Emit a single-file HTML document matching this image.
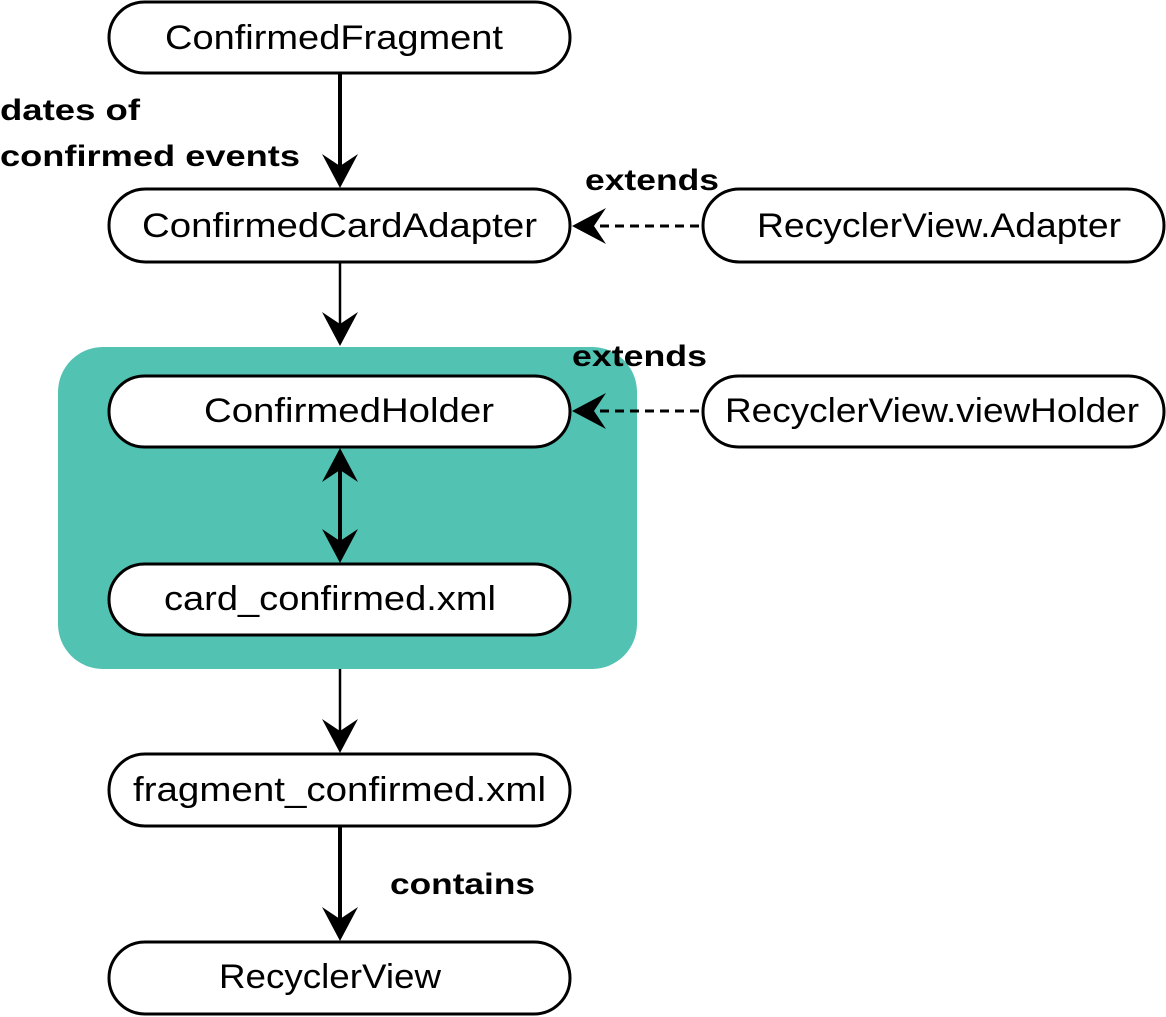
<!DOCTYPE html>
<html><head><style>
html,body{margin:0;padding:0;background:#fff;}
svg{display:block;}
text{font-family:"Liberation Sans",sans-serif;}
</style></head><body>
<svg width="1166" height="1017" viewBox="0 0 1166 1017">
<defs>
<path id="ah" d="M0,0 L-34,-18 L-22,0 L-34,18 Z" fill="#000"/>
</defs>
<rect x="58" y="347" width="579" height="322" rx="45" fill="#52C2B2"/>
<g fill="#fff" stroke="#000" stroke-width="3">
<rect x="109" y="2" width="461" height="71" rx="35.5"/>
<rect x="109" y="189" width="461" height="73" rx="36.5"/>
<rect x="703" y="189" width="461" height="73" rx="36.5"/>
<rect x="109" y="376" width="461" height="71" rx="35.5"/>
<rect x="703" y="376" width="461" height="71" rx="35.5"/>
<rect x="109" y="564" width="461" height="71" rx="35.5"/>
<rect x="109" y="754" width="461" height="72" rx="36"/>
<rect x="109" y="942" width="461" height="72" rx="36"/>
</g>
<g font-size="34" fill="#000" lengthAdjust="spacingAndGlyphs">
<text x="165" y="49" textLength="338" lengthAdjust="spacingAndGlyphs">ConfirmedFragment</text>
<text x="142" y="237" textLength="395" lengthAdjust="spacingAndGlyphs">ConfirmedCardAdapter</text>
<text x="757" y="237" textLength="364" lengthAdjust="spacingAndGlyphs">RecyclerView.Adapter</text>
<text x="204" y="422" textLength="290" lengthAdjust="spacingAndGlyphs">ConfirmedHolder</text>
<text x="725" y="422" textLength="414" lengthAdjust="spacingAndGlyphs">RecyclerView.viewHolder</text>
<text x="164" y="610" textLength="332" lengthAdjust="spacingAndGlyphs">card_confirmed.xml</text>
<text x="133" y="801" textLength="413" lengthAdjust="spacingAndGlyphs">fragment_confirmed.xml</text>
<text x="219" y="988" textLength="222" lengthAdjust="spacingAndGlyphs">RecyclerView</text>
</g>
<g font-size="30" font-weight="bold" fill="#000">
<text x="0" y="120" textLength="140" lengthAdjust="spacingAndGlyphs">dates of</text>
<text x="0" y="166" textLength="300" lengthAdjust="spacingAndGlyphs">confirmed events</text>
<text x="585" y="190" textLength="134" lengthAdjust="spacingAndGlyphs">extends</text>
<text x="572" y="366" textLength="135" lengthAdjust="spacingAndGlyphs">extends</text>
<text x="390" y="894" textLength="145" lengthAdjust="spacingAndGlyphs">contains</text>
</g>
<g stroke="#000" fill="none">
<line x1="340" y1="73" x2="340" y2="170" stroke-width="4"/>
<line x1="340" y1="262" x2="340" y2="330" stroke-width="2.5"/>
<line x1="340" y1="465" x2="340" y2="546" stroke-width="4"/>
<line x1="340" y1="669" x2="340" y2="736" stroke-width="2.5"/>
<line x1="340" y1="826" x2="340" y2="924" stroke-width="4"/>
<line x1="600" y1="226" x2="703" y2="226" stroke-width="3" stroke-dasharray="9,6"/>
<line x1="600" y1="411" x2="703" y2="411" stroke-width="3" stroke-dasharray="9,6"/>
</g>
<use href="#ah" transform="translate(340,188) rotate(90)"/>
<use href="#ah" transform="translate(340,346) rotate(90)"/>
<use href="#ah" transform="translate(340,448) rotate(-90)"/>
<use href="#ah" transform="translate(340,563) rotate(90)"/>
<use href="#ah" transform="translate(340,753) rotate(90)"/>
<use href="#ah" transform="translate(340,941) rotate(90)"/>
<use href="#ah" transform="translate(572,226) rotate(180)"/>
<use href="#ah" transform="translate(572,411) rotate(180)"/>
</svg>
</body></html>
